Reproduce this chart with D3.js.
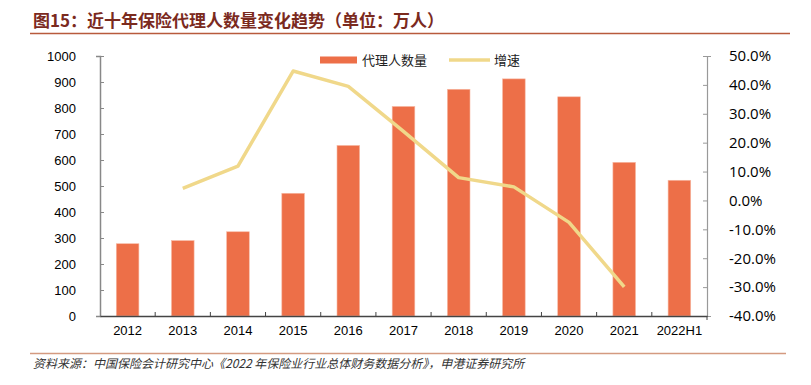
<!DOCTYPE html>
<html><head><meta charset="utf-8">
<script src="https://cdn.jsdelivr.net/npm/d3@7"></script>
<style>body{margin:0;background:#fff}</style>
</head><body>
<svg id="c" width="811" height="385"></svg>
<script>
const categories = ["2012","2013","2014","2015","2016","2017","2018","2019","2020","2021","2022H1"];
const agents = [278, 290, 324, 472, 656, 806, 872, 912, 843, 591, 522];
const growth = [null, 4.2, 11.9, 44.8, 39.5, 23.9, 7.9, 4.7, -7.6, -29.9, null];
const leftTicks = [0,100,200,300,400,500,600,700,800,900,1000];
const rightTicks = [-40,-30,-20,-10,0,10,20,30,40,50];

const svg = d3.select("#c");
const L = 100, R = 707, T = 56, B = 316;
const fontLatin = "'Liberation Sans', Arial, sans-serif";
const fontCJK = "'Noto Sans CJK SC', sans-serif";

// title
svg.append("text").attr("x",33).attr("y",27).attr("fill","#7b2a1e")
  .attr("font-family",fontCJK).attr("font-weight","bold").attr("font-size",17)
  .text("图15：近十年保险代理人数量变化趋势（单位：万人）");
svg.append("line").attr("x1",30).attr("x2",790).attr("y1",33.5).attr("y2",33.5)
  .attr("stroke","#b85a3c").attr("stroke-width",1.5);

const x = d3.scaleBand().domain(categories).range([L,R]).paddingInner(0.59).paddingOuter(0.295);
const xb = d3.scaleBand().domain(categories).range([L,R]);
const y = d3.scaleLinear().domain([0,1000]).range([B,T]);
const y2 = d3.scaleLinear().domain([-40,50]).range([B,T]);

// bars
svg.append("g").selectAll("rect").data(agents).join("rect")
  .attr("x",(d,i)=>x(categories[i])).attr("width",x.bandwidth())
  .attr("y",d=>y(d)).attr("height",d=>B-y(d))
  .attr("fill","#ed6f48").attr("stroke","#f7b9a4").attr("stroke-width",0.6);

// left axis
const ga = svg.append("g").attr("transform",`translate(${L},0)`)
  .call(d3.axisLeft(y).tickValues(leftTicks).tickSize(4).tickPadding(28).tickFormat(d3.format("d")));
ga.select(".domain").attr("stroke","#888").attr("stroke-width",1.5);
ga.selectAll(".tick line").attr("stroke","#888").attr("x2",4).attr("x1",0);
ga.selectAll("text").attr("font-family",fontLatin).attr("font-size",13).attr("fill","#000").attr("text-anchor","end").attr("dx",8);

// right axis
const gr = svg.append("g").attr("transform",`translate(${R},0)`)
  .call(d3.axisRight(y2).tickValues(rightTicks).tickSize(4).tickPadding(18).tickFormat(d=>d.toFixed(1)+"%"));
gr.select(".domain").attr("stroke","#999").attr("stroke-width",1.2);
gr.selectAll(".tick line").attr("stroke","#999").attr("x1",-4).attr("x2",0);
gr.selectAll("text").attr("font-family","'Open Sans', sans-serif").attr("font-size",15).attr("fill","#000");

// bottom axis
const gb = svg.append("g").attr("transform",`translate(0,${B})`)
  .call(d3.axisBottom(xb).tickSize(0).tickPadding(10));
gb.select(".domain").attr("stroke","#444").attr("stroke-width",1.5);
gb.selectAll("text").attr("font-family",fontLatin).attr("font-size",13).attr("fill","#000");
svg.append("g").selectAll("line").data(categories.slice(1)).join("line")
  .attr("x1",d=>xb(d)).attr("x2",d=>xb(d)).attr("y1",B).attr("y2",B-4)
  .attr("stroke","#444").attr("stroke-width",1);
svg.append("line").attr("x1",R).attr("x2",R).attr("y1",B).attr("y2",B+4).attr("stroke","#444");

// growth line
const line = d3.line().defined(d=>d!==null)
  .x((d,i)=>xb(categories[i])+xb.bandwidth()/2).y(d=>y2(d));
svg.append("path").datum(growth).attr("d",line).attr("fill","none")
  .attr("stroke","#f0d88a").attr("stroke-width",3.5).attr("stroke-linejoin","round");

// legend
const lg = svg.append("g");
lg.append("rect").attr("x",320).attr("y",56.5).attr("width",37).attr("height",7).attr("fill","#ed6f48");
lg.append("text").attr("x",362).attr("y",65).attr("font-family",fontCJK).attr("font-size",13).attr("fill","#222").text("代理人数量");
lg.append("line").attr("x1",449).attr("x2",490).attr("y1",60).attr("y2",60).attr("stroke","#f0d88a").attr("stroke-width",3.5);
lg.append("text").attr("x",494).attr("y",65).attr("font-family",fontCJK).attr("font-size",13).attr("fill","#222").text("增速");

// footer
svg.append("line").attr("x1",30).attr("x2",786).attr("y1",353.5).attr("y2",353.5)
  .attr("stroke","#d49a80").attr("stroke-width",1.5);
svg.append("text").attr("x",33).attr("y",368).attr("font-family",fontCJK).attr("font-size",12)
  .attr("font-style","italic").attr("fill","#333").attr("transform","skewX(0)")
  .text("资料来源：中国保险会计研究中心《2022 年保险业行业总体财务数据分析》，申港证券研究所");
</script>
</body></html>
